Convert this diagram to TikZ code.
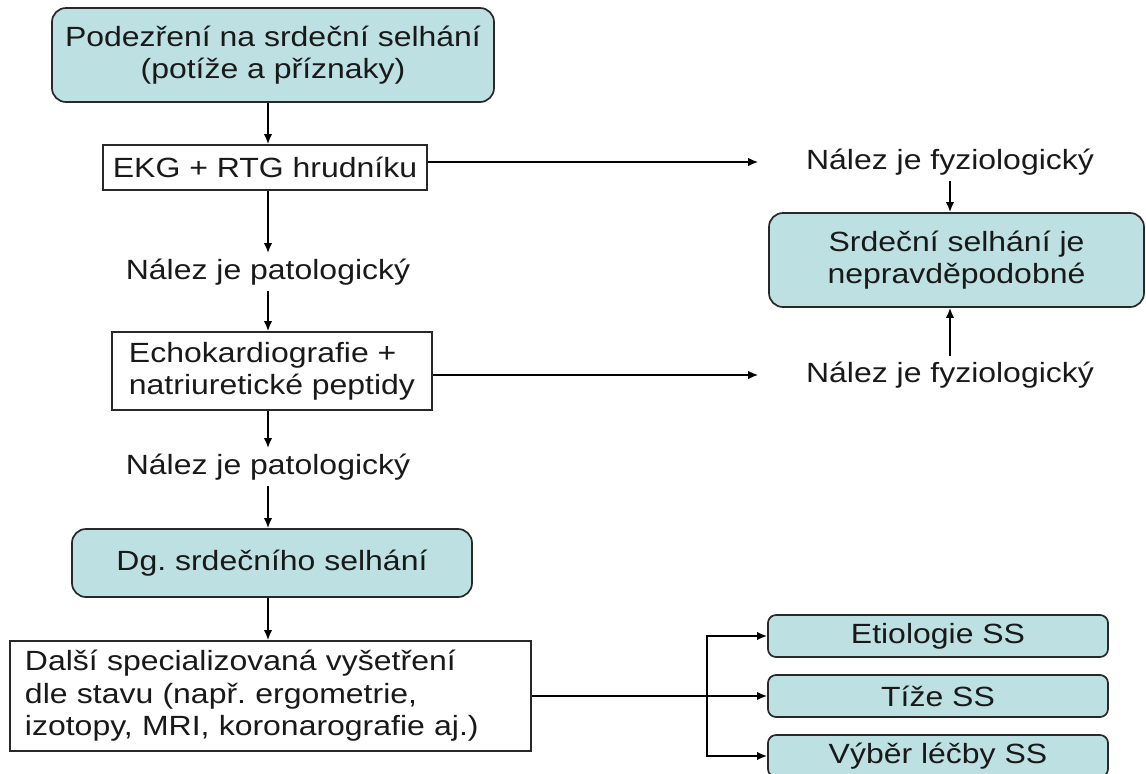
\documentclass[tikz,border=0pt]{standalone}
\usepackage{fontspec}
\setmainfont{Liberation Sans}[FakeStretch=1.15]
\usepackage{tikz}
\usepackage{xcolor}
\usetikzlibrary{arrows.meta}
\definecolor{boxteal}{RGB}{189,224,226}
\definecolor{edgegray}{RGB}{40,40,40}
\definecolor{inkgray}{RGB}{25,25,25}
\frenchspacing

\begin{document}
\begin{tikzpicture}[x=0.5pt,y=-0.5pt,line width=0.85pt,
  font=\fontsize{13.9}{16.2}\selectfont,text=inkgray,
  tealbox/.style={draw=edgegray,fill=boxteal,rounded corners=7pt,align=center,inner sep=0pt},
  smallteal/.style={tealbox,rounded corners=4pt},
  plainbox/.style={draw=edgegray,fill=white,inner sep=0pt},
  lbl/.style={inner sep=2.5pt},
  arr/.style={-{Latex[length=5pt,width=4.2pt]}}]
\useasboundingbox (0,0) rectangle (1146,773);
\node[tealbox,minimum width=221pt,minimum height=47pt] (start) at (273,55) {Podezření na srdeční selhání\\(potíže a příznaky)};
\node[plainbox,minimum width=162pt,minimum height=22.5pt] (ekg) at (265,167.5) {EKG + RTG hrudníku};
\node[lbl] (pato1) at (268,272) {Nález je patologický};
\node[plainbox,align=left,minimum width=160pt,minimum height=39pt] (echo) at (272,371) {Echokardiografie +\\natriuretické peptidy};
\node[lbl] (pato2) at (268,467) {Nález je patologický};
\node[tealbox,minimum width=200pt,minimum height=34pt] (dg) at (272,563) {Dg. srdečního selhání};
\node[plainbox,align=left,text width=245.5pt,inner xsep=7.5pt,minimum height=55pt] (dalsi) at (270.5,696) {Další specializovaná vyšetření\\dle stavu (např. ergometrie,\\izotopy, MRI, koronarografie aj.)};
\node[lbl] (fyz1) at (950,162) {Nález je fyziologický};
\node[lbl] (fyz2) at (950,375) {Nález je fyziologický};
\node[tealbox,minimum width=187.5pt,minimum height=47pt] (srdce) at (956.5,260) {Srdeční selhání je\\nepravděpodobné};
\node[smallteal,minimum width=170pt,minimum height=21pt] (etio) at (938,636) {Etiologie SS};
\node[smallteal,minimum width=170pt,minimum height=21pt] (tize) at (938,696) {Tíže SS};
\node[smallteal,minimum width=170pt,minimum height=21pt] (vyber) at (938,756) {Výběr léčby SS};
\coordinate (split) at (707,696);
% main column
\draw[arr] (start.south -| pato1) -- (ekg.north -| pato1);
\draw[arr] (ekg.south -| pato1) -- (pato1.north);
\draw[arr] (pato1.south) -- (echo.north -| pato1);
\draw[arr] (echo.south -| pato1) -- (pato2.north);
\draw[arr] (pato2.south) -- (dg.north -| pato1);
\draw[arr] (dg.south -| pato1) -- (dalsi.north -| pato1);
% right side
\draw[arr] (ekg.east |- fyz1) -- ([xshift=-21pt]fyz1.west);
\draw[arr] (echo.east |- fyz2) -- ([xshift=-21pt]fyz2.west);
\draw[arr] (fyz1.south) -- (fyz1.south |- srdce.north);
\draw[arr] (fyz2.north) -- (fyz2.north |- srdce.south);
% branches
\draw[arr] (dalsi.east) -- (tize.west);
\draw[arr] (split) |- (etio.west);
\draw[arr] (split) |- (vyber.west);
\end{tikzpicture}
\end{document}
